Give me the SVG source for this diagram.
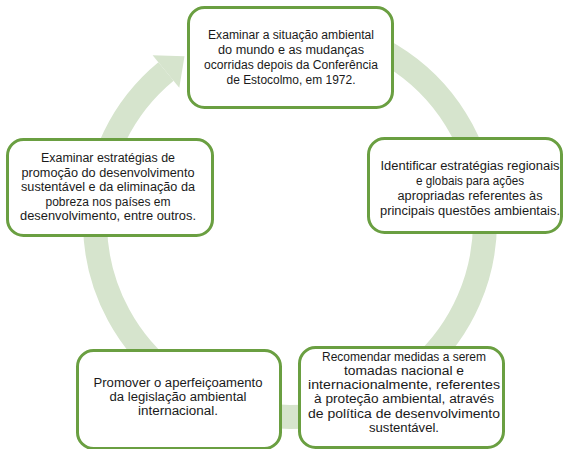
<svg xmlns="http://www.w3.org/2000/svg" width="564" height="449" viewBox="0 0 564 449">
<style>
.box{fill:#ffffff;stroke:#6a9f41;stroke-width:3}
.t{font-family:"Liberation Sans",Arial,sans-serif;font-size:12.5px;fill:#1a1a1a;text-anchor:middle}
.ring{fill:none;stroke:#d6e4cd;stroke-width:24}
.head{fill:#d6e4cd}
</style>
<rect width="564" height="449" fill="#ffffff"/>
<g id="connectors">
<path class="ring" d="M323.9,30 A195,195 0 1 1 165.98,71.54"/>
<polygon class="head" points="152.6,55.3 184.5,56.2 179.3,87.7"/>
</g>
<g id="node-top">
<rect class="box" x="188.5" y="7.5" width="204" height="100" rx="16"/>
<text class="t"><tspan x="291" y="39" textLength="166" lengthAdjust="spacingAndGlyphs">Examinar a situação ambiental</tspan><tspan x="291" y="54" textLength="146" lengthAdjust="spacingAndGlyphs">do mundo e as mudanças</tspan><tspan x="291" y="69" textLength="174" lengthAdjust="spacingAndGlyphs">ocorridas depois da Conferência</tspan><tspan x="291" y="84" textLength="129" lengthAdjust="spacingAndGlyphs">de Estocolmo, em 1972.</tspan></text>
</g>
<g id="node-right">
<rect class="box" x="368.5" y="138.5" width="193" height="94" rx="16"/>
<text class="t"><tspan x="470" y="170" textLength="179" lengthAdjust="spacingAndGlyphs">Identificar estratégias regionais</tspan><tspan x="470" y="185" textLength="108" lengthAdjust="spacingAndGlyphs">e globais para ações</tspan><tspan x="470" y="200" textLength="145" lengthAdjust="spacingAndGlyphs">apropriadas referentes às</tspan><tspan x="470" y="215" textLength="180" lengthAdjust="spacingAndGlyphs">principais questões ambientais.</tspan></text>
</g>
<g id="node-left">
<rect class="box" x="7.5" y="139.5" width="205" height="96" rx="16"/>
<text class="t"><tspan x="108" y="162" textLength="134" lengthAdjust="spacingAndGlyphs">Examinar estratégias de</tspan><tspan x="108" y="177" textLength="173" lengthAdjust="spacingAndGlyphs">promoção do desenvolvimento</tspan><tspan x="108" y="191" textLength="174" lengthAdjust="spacingAndGlyphs">sustentável e da eliminação da</tspan><tspan x="108" y="206" textLength="125" lengthAdjust="spacingAndGlyphs">pobreza nos países em</tspan><tspan x="108" y="220" textLength="176" lengthAdjust="spacingAndGlyphs">desenvolvimento, entre outros.</tspan></text>
</g>
<g id="node-bottom-left">
<rect class="box" x="77.5" y="350.5" width="203" height="98" rx="16"/>
<text class="t"><tspan x="178" y="387" textLength="169" lengthAdjust="spacingAndGlyphs">Promover o aperfeiçoamento</tspan><tspan x="178" y="401" textLength="137" lengthAdjust="spacingAndGlyphs">da legislação ambiental</tspan><tspan x="178" y="415" textLength="80" lengthAdjust="spacingAndGlyphs">internacional.</tspan></text>
</g>
<g id="node-bottom-right">
<rect class="box" x="299.5" y="347.5" width="204" height="100" rx="16"/>
<text class="t"><tspan x="404" y="361" textLength="164" lengthAdjust="spacingAndGlyphs">Recomendar medidas a serem</tspan><tspan x="404" y="375" textLength="120" lengthAdjust="spacingAndGlyphs">tomadas nacional e</tspan><tspan x="404" y="389" textLength="192" lengthAdjust="spacingAndGlyphs">internacionalmente, referentes</tspan><tspan x="404" y="403" textLength="180" lengthAdjust="spacingAndGlyphs">à proteção ambiental, através</tspan><tspan x="404" y="418" textLength="192" lengthAdjust="spacingAndGlyphs">de política de desenvolvimento</tspan><tspan x="404" y="432" textLength="70" lengthAdjust="spacingAndGlyphs">sustentável.</tspan></text>
</g>
</svg>
